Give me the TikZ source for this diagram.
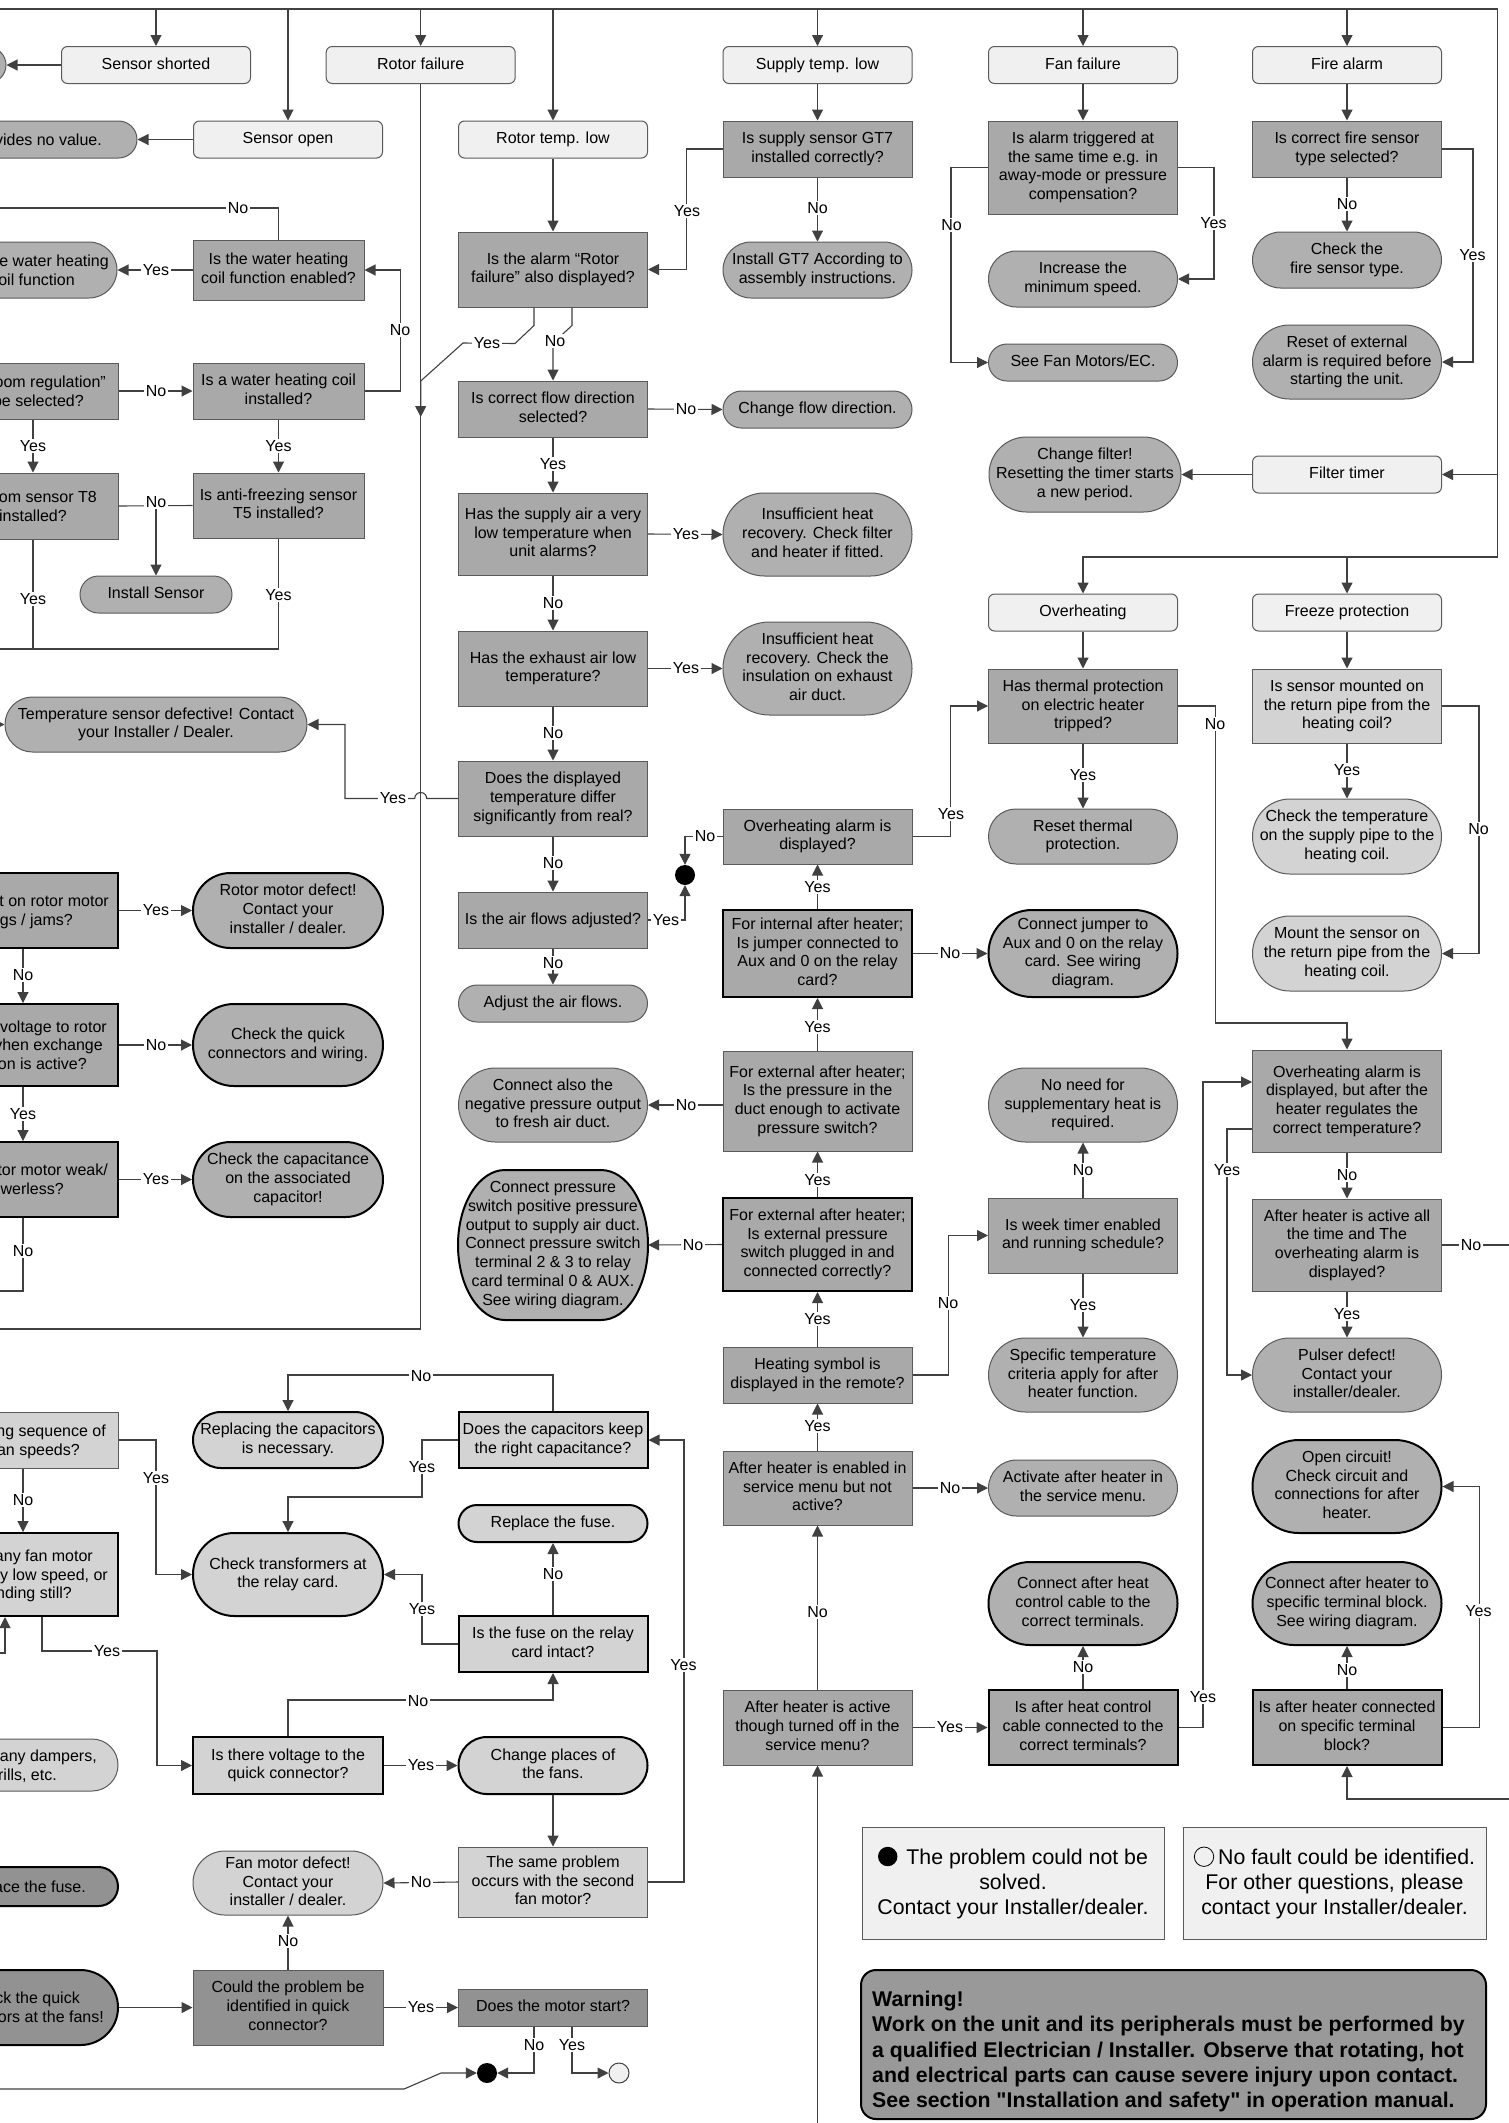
\documentclass[tikz,border=0pt]{standalone}
\usepackage{fontspec}
\setmainfont{Liberation Sans}
\newfontfamily\wfam{Liberation Sans}
\usetikzlibrary{arrows.meta}
\definecolor{gA}{HTML}{A9A9A9}
\definecolor{gT}{HTML}{B0B0B0}
\definecolor{gL}{HTML}{D3D3D3}
\definecolor{gD}{HTML}{929292}
\definecolor{gH}{HTML}{F0F0F0}
\definecolor{gW}{HTML}{999999}
\definecolor{ln}{HTML}{404040}
\definecolor{bd}{HTML}{5A5A5A}
\newcommand\nfont{\fontsize{16}{18.7}\selectfont}
\newcommand\legfont{\fontsize{21.3}{25.3}\selectfont}
\newcommand\wfont{\wfam\fontsize{21.3}{25.25}\selectfont\bfseries}
\newcommand\vstr{\rule[-3.4pt]{0pt}{14.5pt}}
\newcommand\vstrL{\rule[-4.5pt]{0pt}{19.3pt}}
\newcommand\legdotb{\tikz[baseline=-7.6pt]\fill[black] (0,0) circle (9.7pt);}
\newcommand\legdotw{\tikz[baseline=-7.6pt]\draw[black,line width=0.8pt] (0,0) circle (9.7pt);}
\begin{document}
\begin{tikzpicture}[x=1pt,y=-1pt,
  every node/.style={font=\nfont, inner sep=0pt, align=center, text=black},
  bx/.style={draw=bd, line width=1pt, fill=gA, minimum width=189, minimum height=#1},
  tm/.style={draw=bd, line width=1pt, fill=gT, minimum width=189, minimum height=#1, rounded corners=#1/2-0.05},
  hd/.style={draw=bd, line width=1pt, fill=gH, minimum width=189, minimum height=37, rounded corners=6},
  lt/.style={fill=gL}, dk/.style={fill=gD}, hv/.style={draw=black, line width=2pt},
  cn/.style={draw=ln, line width=1.1pt},
  ar/.style={draw=ln, line width=1.1pt, -{Triangle[length=11pt,width=11pt]}},
  lb/.style={fill=white, inner sep=1.5pt},
  fg/.style={anchor=base east}]
\fill[white] (0,0) rectangle (1509,2123);
\useasboundingbox (0,0) rectangle (1509,2123);

% ---------- headers
\node[hd] (ss) at (156,65) {\vstr Sensor shorted\vstr};
\node[hd] (so) at (288,139.5) {\vstr Sensor open\vstr};
\node[hd] (rf) at (420.7,65) {\vstr Rotor failure\vstr};
\node[hd] (rtl) at (553,139.5) {\vstr Rotor temp. low\vstr};
\node[hd] (stl) at (817.5,65) {\vstr Supply temp. low\vstr};
\node[hd] (ff) at (1083,65) {\vstr Fan failure\vstr};
\node[hd] (fa) at (1347,65) {\vstr Fire alarm\vstr};
\node[hd] (ft) at (1347,474.5) {\vstr Filter timer\vstr};
\node[hd] (oh) at (1083,612.5) {\vstr Overheating\vstr};
\node[hd] (fp) at (1347,612.5) {\vstr Freeze protection\vstr};

% ---------- left, cut by the page edge
\node[tm=36, minimum width=206] (L0) at (-97,65) {};
\node[tm=37, minimum width=237] (L1) at (18.5,139.5) {};
\node[fg] at (102,145.2) {vides no value.};
\node[tm=56, minimum width=217] (L2) at (8.5,270) {};
\node[fg] at (109,266.3) {e water heating};
\node[fg] at (75,285) {oil function};
\node[bx=56, minimum width=218] (L3) at (9,391) {};
\node[fg] at (106,387.4) {oom regulation”};
\node[fg] at (84,406) {be selected?};
\node[bx=66, minimum width=218] (L4) at (9,506) {};
\node[fg] at (97,502.3) {om sensor T8};
\node[fg] at (67,521) {installed?};
\node[bx=75, hv, minimum width=218] (L5) at (9,910.5) {};
\node[fg] at (109,906.9) {t on rotor motor};
\node[fg] at (73,925.6) {gs / jams?};
\node[bx=82, hv, minimum width=218] (L6) at (9,1045) {};
\node[fg] at (107,1032) {voltage to rotor};
\node[fg] at (103,1050.7) {vhen exchange};
\node[fg] at (87,1069.4) {on is active?};
\node[bx=75, hv, minimum width=218] (L7) at (9,1179.5) {};
\node[fg] at (108,1175.9) {tor motor weak/};
\node[fg] at (64,1194.6) {owerless?};
\node[bx=56, lt, minimum width=218] (L8) at (9,1440) {};
\node[fg] at (106,1436.4) {ng sequence of};
\node[fg] at (80,1455.1) {an speeds?};
\node[bx=83, hv, lt, minimum width=218] (L9) at (9,1574.5) {};
\node[fg] at (93,1561.5) {any fan motor};
\node[fg] at (108,1580.2) {y low speed, or};
\node[fg] at (72,1598.9) {nding still?};
\node[tm=52, lt, minimum width=218] (L10) at (9,1765) {};
\node[fg] at (97,1761.4) {any dampers,};
\node[fg] at (57,1780.1) {rills, etc.};
\node[tm=39, hv, dk, minimum width=218] (L11) at (9,1886.5) {};
\node[fg] at (86,1892.2) {ace the fuse.};
\node[tm=75, hv, dk, minimum width=218] (L12) at (9,2007.5) {};
\node[fg] at (80,2003.9) {ck the quick};
\node[fg] at (104,2022.6) {ors at the fans!};

% ---------- column A
\node[bx=60, minimum width=171] (wcf) at (278.5,270) {\vstr Is the water heating\\coil function enabled?\vstr};
\node[bx=56, minimum width=171] (whc) at (278.5,391) {\vstr Is a water heating coil\\installed?\vstr};
\node[bx=65, minimum width=171] (afs) at (278.5,505.5) {\vstr Is anti-freezing sensor\\T5 installed?\vstr};
\node[tm=37, minimum width=152] (ins) at (156,594.5) {\vstr Install Sensor\vstr};
\node[tm=55, minimum width=302] (tsd) at (156,724.5) {\vstr Temperature sensor defective! Contact\\your Installer / Dealer.\vstr};
\node[tm=75, hv, minimum width=190] (rmd) at (288,910.5) {\vstr Rotor motor defect!\\Contact your\\installer / dealer.\vstr};
\node[tm=82, hv, minimum width=190] (cqc) at (288,1045) {\vstr Check the quick\\connectors and wiring.\vstr};
\node[tm=75, hv, minimum width=190] (cap) at (288,1179.5) {\vstr Check the capacitance\\on the associated\\capacitor!\vstr};
\node[tm=56, hv, lt, minimum width=190] (rep) at (288,1440) {\vstr Replacing the capacitors\\is necessary.\vstr};
\node[tm=83, hv, lt, minimum width=190] (ctr) at (288,1574.5) {\vstr Check transformers at\\the relay card.\vstr};
\node[bx=57, hv, lt, minimum width=190] (vqc) at (288,1765.5) {\vstr Is there voltage to the\\quick connector?\vstr};
\node[tm=64, lt, minimum width=190] (fmd) at (288,1883) {\vstr Fan motor defect!\\Contact your\\installer / dealer.\vstr};
\node[bx=75, dk, minimum width=190] (cpi) at (288,2007.5) {\vstr Could the problem be\\identified in quick\\connector?\vstr};

% ---------- column B
\node[bx=75] (rab) at (553,269.5) {\vstr Is the alarm “Rotor\\failure” also displayed?\vstr};
\node[bx=56] (cfd) at (553,409) {\vstr Is correct flow direction\\selected?\vstr};
\node[bx=82] (sal) at (553,534) {\vstr Has the supply air a very\\low temperature when\\unit alarms?\vstr};
\node[bx=75] (eal) at (553,668.5) {\vstr Has the exhaust air low\\temperature?\vstr};
\node[bx=75] (dtd) at (553,798.5) {\vstr Does the displayed\\temperature differ\\significantly from real?\vstr};
\node[bx=56] (afa) at (553,920) {\vstr Is the air flows adjusted?\vstr};
\node[tm=37] (adj) at (553,1003.5) {\vstr Adjust the air flows.\vstr};
\node[tm=74] (cneg) at (553,1105) {\vstr Connect also the\\negative pressure output\\to fresh air duct.\vstr};
\path[draw=black, line width=2pt, fill=gT] (505,1170) -- (601,1170)
  arc[start angle=90, end angle=-90, x radius=47pt, y radius=75pt] -- (505,1320)
  arc[start angle=270, end angle=90, x radius=47pt, y radius=75pt] -- cycle;
\node[minimum width=190, minimum height=150] (cpos) at (553,1245) {\vstr Connect pressure\\switch positive pressure\\output to supply air duct.\\Connect pressure switch\\terminal 2 \& 3 to relay\\card terminal 0 \& AUX.\\See wiring diagram.\vstr};
\node[bx=56, hv, lt] (dck) at (553,1440) {\vstr Does the capacitors keep\\the right capacitance?\vstr};
\node[tm=37, hv, lt] (rfu) at (553,1523.5) {\vstr Replace the fuse.\vstr};
\node[bx=56, hv, lt] (fri) at (553,1644) {\vstr Is the fuse on the relay\\card intact?\vstr};
\node[tm=57, hv, lt] (cpf) at (553,1765.5) {\vstr Change places of\\the fans.\vstr};
\node[bx=70, lt] (spr) at (553,1882) {\vstr The same problem\\occurs with the second\\fan motor?\vstr};
\node[bx=37, dk] (dms) at (553,2007.5) {\vstr Does the motor start?\vstr};
\node[circle, fill=black, minimum size=20] (dot1) at (487,2073) {};
\node[circle, draw=ln, line width=1pt, fill=gH, minimum size=20] (ocir) at (619,2073) {};
\node[circle, fill=black, minimum size=20] (dot2) at (685,875) {};

% ---------- column C
\node[bx=56] (gt7) at (817.5,149) {\vstr Is supply sensor GT7\\installed correctly?\vstr};
\node[tm=56] (igt) at (817.5,270) {\vstr Install GT7 According to\\assembly instructions.\vstr};
\node[tm=37] (cfl) at (817.5,409.5) {\vstr Change flow direction.\vstr};
\node[tm=83] (ihr1) at (817.5,534.5) {\vstr Insufficient heat\\recovery. Check filter\\and heater if fitted.\vstr};
\node[tm=93] (ihr2) at (817.5,668.5) {\vstr Insufficient heat\\recovery. Check the\\insulation on exhaust\\air duct.\vstr};
\node[bx=55] (oad) at (817.5,836.5) {\vstr Overheating alarm is\\displayed?\vstr};
\node[bx=87, hv] (fih) at (817.5,953.5) {\vstr For internal after heater;\\Is jumper connected to\\Aux and 0 on the relay\\card?\vstr};
\node[bx=100] (fep) at (817.5,1101) {\vstr For external after heater;\\Is the pressure in the\\duct enough to activate\\pressure switch?\vstr};
\node[bx=93, hv] (fes) at (817.5,1244.5) {\vstr For external after heater;\\Is external pressure\\switch plugged in and\\connected correctly?\vstr};
\node[bx=56] (hsd) at (817.5,1375) {\vstr Heating symbol is\\displayed in the remote?\vstr};
\node[bx=74] (aen) at (817.5,1488) {\vstr After heater is enabled in\\service menu but not\\active?\vstr};
\node[bx=75] (aac) at (817.5,1727.5) {\vstr After heater is active\\though turned off in the\\service menu?\vstr};

% ---------- column D
\node[bx=93] (atr) at (1083,167.5) {\vstr Is alarm triggered at\\the same time e.g. in\\away-mode or pressure\\compensation?\vstr};
\node[tm=56] (inc) at (1083,279) {\vstr Increase the\\minimum speed.\vstr};
\node[tm=37] (sfm) at (1083,362.5) {\vstr See Fan Motors/EC.\vstr};
\node[tm=75, minimum width=192] (cfi) at (1085,474.5) {\vstr Change filter!\\Resetting the timer starts\\a new period.\vstr};
\node[bx=74] (htp) at (1083,706) {\vstr Has thermal protection\\on electric heater\\tripped?\vstr};
\node[tm=55] (rtp) at (1083,836.5) {\vstr Reset thermal\\protection.\vstr};
\node[tm=87, hv] (cjm) at (1083,953.5) {\vstr Connect jumper to\\Aux and 0 on the relay\\card. See wiring\\diagram.\vstr};
\node[tm=74] (nns) at (1083,1105) {\vstr No need for\\supplementary heat is\\required.\vstr};
\node[bx=75] (wte) at (1083,1235.5) {\vstr Is week timer enabled\\and running schedule?\vstr};
\node[tm=74] (stc) at (1083,1375) {\vstr Specific temperature\\criteria apply for after\\heater function.\vstr};
\node[tm=56] (aah) at (1083,1488) {\vstr Activate after heater in\\the service menu.\vstr};
\node[tm=83, hv] (cac) at (1083,1603.5) {\vstr Connect after heat\\control cable to the\\correct terminals.\vstr};
\node[bx=75, hv] (ahc) at (1083,1727.5) {\vstr Is after heat control\\cable connected to the\\correct terminals?\vstr};

% ---------- column E
\node[bx=56] (cfs) at (1347,149) {\vstr Is correct fire sensor\\type selected?\vstr};
\node[tm=56] (cst) at (1347,260) {\vstr Check the\\fire sensor type.\vstr};
\node[tm=74] (rex) at (1347,362) {\vstr Reset of external\\alarm is required before\\starting the unit.\vstr};
\node[bx=74, lt] (smr) at (1347,706) {\vstr Is sensor mounted on\\the return pipe from the\\heating coil?\vstr};
\node[tm=75, lt] (ctp) at (1347,836.5) {\vstr Check the temperature\\on the supply pipe to the\\heating coil.\vstr};
\node[tm=75, lt] (msr) at (1347,953.5) {\vstr Mount the sensor on\\the return pipe from the\\heating coil.\vstr};
\node[bx=102] (oab) at (1347,1101) {\vstr Overheating alarm is\\displayed, but after the\\heater regulates the\\correct temperature?\vstr};
\node[bx=92] (aha) at (1347,1245) {\vstr After heater is active all\\the time and The\\overheating alarm is\\displayed?\vstr};
\node[tm=74] (pdf) at (1347,1375) {\vstr Pulser defect!\\Contact your\\installer/dealer.\vstr};
\node[tm=93, hv] (ocr) at (1347,1486.5) {\vstr Open circuit!\\Check circuit and\\connections for after\\heater.\vstr};
\node[tm=83, hv] (cah) at (1347,1603.5) {\vstr Connect after heater to\\specific terminal block.\\See wiring diagram.\vstr};
\node[bx=75, hv] (ahb) at (1347,1727.5) {\vstr Is after heater connected\\on specific terminal\\block?\vstr};

% ---------- legend and warning
\node[draw=bd, line width=1pt, fill=gH, minimum width=302, minimum height=112, font=\legfont] (lg1) at (1013,1883) {\vstrL\legdotb\hspace{9pt}The problem could not be\\solved.\\Contact your Installer/dealer.\vstrL};
\node[draw=bd, line width=1pt, fill=gH, minimum width=303, minimum height=112, font=\legfont] (lg2) at (1334.5,1883) {\vstrL\legdotw\hspace{4pt}No fault could be identified.\\For other questions, please\\contact your Installer/dealer.\vstrL};
\node[draw=black, line width=2pt, fill=gW, rounded corners=15, minimum width=625, minimum height=149] (wrn) at (1173.5,2044.5) {};
\node[anchor=north west, align=left, font=\wfont] (wtx) at (872,1991) {Warning!\\Work on the unit and its peripherals must be performed by\\a qualified Electrician / Installer. Observe that rotating, hot\\and electrical parts can cause severe injury upon contact.\\See section "Installation and safety" in operation manual.};

% ---------- helper coordinates
\coordinate (tl) at (0,9);
\coordinate (tr) at (1497.7,9);
\coordinate (rb) at (1497.7,557);
\coordinate (e208) at (0,208);
\coordinate (k23) at (23,0);
\coordinate (k33) at (33,0);
\coordinate (k42) at (42,0);
\coordinate (k156) at (156,0);
\coordinate (k422) at (422,0);
\coordinate (y649) at (0,649);
\coordinate (y1291) at (0,1291);
\coordinate (y1329) at (0,1329);
\coordinate (y1023) at (0,1023);
\coordinate (tin) at (-30,724.5);
\coordinate (c1651) at (157,1651);
\coordinate (k5) at (5,1653);
\coordinate (lin2) at (-30,1653);
\coordinate (lin3) at (-30,2089);
\coordinate (c1497) at (422,1497);
\coordinate (c1082) at (1203,1082);
\coordinate (c1129) at (1227,1129);
\coordinate (rOut) at (1530,1245);
\coordinate (rIn) at (1530,1799);
\coordinate (bot) at (817.5,2150);

% ---------- connectors: top bus
\draw[cn] (tl) -- (tr) -- (rb);
\draw[ar] (rb) -| (oh.north);
\draw[ar] (fp.north |- rb) -- (fp.north);
\draw[ar] (ss.north |- tl) -- (ss.north);
\draw[ar] (so.north |- tl) -- (so.north);
\draw[ar] (rf.north |- tl) -- (rf.north);
\draw[ar] (rtl.north |- tl) -- (rtl.north);
\draw[ar] (stl.north |- tl) -- (stl.north);
\draw[ar] (ff.north |- tl) -- (ff.north);
\draw[ar] (fa.north |- tl) -- (fa.north);
\draw[ar] (ft.east -| tr) -- (ft.east);
\draw[ar] (ft.west) -- (cfi.east);

% left top
\draw[ar] (ss.west) -- (L0.east);
\draw[ar] (so.west) -- (L1.east);
\draw[cn] (wcf.north) |- (e208);
\draw[ar] (wcf.west) -- (L2.east);
\draw[ar] (whc.east) -- ++(36,0) |- (wcf.east);
\draw[ar] (L3.east) -- (whc.west);
\draw[ar] (L3.south -| k33) -- (L4.north -| k33);
\draw[ar] (whc.south) -- (afs.north);
\draw[cn] (L4.east) -- (afs.west);
\draw[ar] (L4.east -| k156) -- (ins.north);
\draw[cn] (L4.south -| k33) -- (k33 |- y649);
\draw[cn] (afs.south) |- (y649);
\draw[ar] (dtd.west) -- (426.7,798.5) arc[start angle=0,end angle=180,radius=6pt] -- (345,798.5) |- (tsd.east);
\draw[ar] (tin) -- (tsd.west);
\draw[cn] (rf.south) |- (y1329);
\draw[ar] ([xshift=-19pt]rab.south) -- ++(0,18) -- ++(-19,18) -- (463,343) -- (420.7,381) -- (420.7,417);
\draw[ar] ([xshift=19pt]rab.south) -- ++(0,18) -- (553,343) -- (cfd.north);

% column B / C
\draw[ar] (rtl.south) -- (rab.north);
\draw[ar] (gt7.west) -- ++(-36,0) |- (rab.east);
\draw[ar] (cfd.east) -- (cfl.west);
\draw[ar] (cfd.south) -- (sal.north);
\draw[ar] (sal.east) -- (ihr1.west);
\draw[ar] (sal.south) -- (eal.north);
\draw[ar] (eal.east) -- (ihr2.west);
\draw[ar] (eal.south) -- (dtd.north);
\draw[ar] (dtd.south) -- (afa.north);
\draw[ar] (afa.south) -- (adj.north);
\draw[ar] (afa.east) -| (dot2.south);
\draw[ar] (oad.west) -| (dot2.north);
\draw[ar] (oad.east) -- ++(38,0) |- (htp.west);
\draw[ar] (fih.north) -- (oad.south);
\draw[ar] (fih.east) -- (cjm.west);
\draw[ar] (fep.north) -- (fih.south);
\draw[ar] (fep.west |- cneg.east) -- (cneg.east);
\draw[ar] (fes.north) -- (fep.south);
\draw[ar] (fes.west) -- (cpos.east);
\draw[ar] (hsd.north) -- (fes.south);
\draw[ar] (hsd.east) -- ++(36,0) |- (wte.west);
\draw[ar] (aen.north) -- (hsd.south);
\draw[ar] (aen.east) -- (aah.west);
\draw[ar] (aac.north) -- (aen.south);
\draw[ar] (bot) -- (aac.south);
\draw[ar] (aac.east) -- (ahc.west);
\draw[ar] (stl.south) -- (gt7.north);
\draw[ar] (gt7.south) -- (igt.north);

% column D / E
\draw[ar] (ff.south) -- (atr.north);
\draw[ar] (atr.east) -- ++(36,0) |- (inc.east);
\draw[ar] (atr.west) -- ++(-37,0) |- (sfm.west);
\draw[ar] (oh.south) -- (htp.north);
\draw[ar] (htp.south) -- (rtp.north);
\draw[ar] (htp.east) -- ++(37.5,0) |- (oab.north |- y1023) -- (oab.north);
\draw[ar] (wte.north) -- (nns.south);
\draw[ar] (wte.south) -- (stc.north);
\draw[ar] (ahc.north) -- (cac.south);
\draw[ar] (ahc.east) -| (c1082) -- (c1082 -| oab.west);
\draw[ar] (c1129 -| oab.west) -- (c1129) |- (pdf.west);
\draw[ar] (oab.south) -- (aha.north);
\draw[ar] (aha.south) -- (pdf.north);
\draw[cn] (aha.east) -- (rOut);
\draw[ar] (rIn) -| (ahb.south);
\draw[ar] (ahb.north) -- (cah.south);
\draw[ar] (ahb.east) -- ++(37,0) |- (ocr.east);
\draw[ar] (fa.south) -- (cfs.north);
\draw[ar] (cfs.south) -- (cst.north);
\draw[ar] (cfs.east) -- ++(31,0) |- (rex.east);
\draw[ar] (fp.south) -- (smr.north);
\draw[ar] (smr.south) -- (ctp.north);
\draw[ar] (smr.east) -- ++(37,0) |- (msr.east);

% left lower
\draw[ar] (L5.east) -- (rmd.west);
\draw[ar] (L5.south -| k23) -- (L6.north -| k23);
\draw[ar] (L6.east) -- (cqc.west);
\draw[ar] (L6.south -| k23) -- (L7.north -| k23);
\draw[ar] (L7.east) -- (cap.west);
\draw[cn] (L7.south -| k23) |- (y1291);
\draw[ar] (L8.east) -- (L8.east -| k156) |- (ctr.west);
\draw[ar] (L8.south -| k23) -- (L9.north -| k23);
\draw[ar] (L9.south -| k42) |- (c1651) |- (vqc.west);
\draw[ar] (lin2) -| (L9.south -| k5);
\draw[ar] (L12.east) -- (cpi.west);
\draw[ar] (cpi.north) -- (fmd.south);
\draw[ar] (cpi.east) -- (dms.west);
\draw[ar] ([xshift=-19pt]dms.south) |- (dot1.east);
\draw[ar] ([xshift=19pt]dms.south) |- (ocir.west);
\draw[ar] (lin3) -- (404,2089) -- (441,2073) -- (dot1.west);
\draw[ar] (dck.north) -- ++(0,-36) -| (rep.north);
\draw[ar] (dck.west) -| (c1497) -| (ctr.north);
\draw[ar] (spr.east) -- ++(36,0) |- (dck.east);
\draw[ar] (fri.north) -- (rfu.south);
\draw[ar] (fri.west) -| (k422 |- ctr.east) -- (ctr.east);
\draw[ar] (vqc.north) -- ++(0,-36) -| (fri.south);
\draw[ar] (vqc.east) -- (cpf.west);
\draw[ar] (cpf.south) -- (spr.north);
\draw[ar] (spr.west) -- (fmd.east);

% ---------- labels
\foreach \x/\y/\t in {238/208/No, 156/270/Yes, 400/330/No, 156/391/No, 33/446/Yes, 278.5/446/Yes,
  156/502/No, 33/599/Yes, 278.5/595/Yes, 393/798.5/Yes, 487/343/Yes, 555/341/No, 687/211/Yes,
  817.5/208/No, 686/409/No, 553/464/Yes, 686/534/Yes, 553/603/No, 686/668.5/Yes, 553/733/No,
  553/863/No, 666/920/Yes, 553/963/No, 705/836.5/No, 951/814/Yes, 817.5/887/Yes, 950/953.5/No,
  817.5/1027/Yes, 686/1105/No, 817.5/1180/Yes, 693/1245/No, 817.5/1319/Yes, 948/1303/No,
  817.5/1426/Yes, 950/1488/No, 817.5/1612/No, 950/1727.5/Yes, 1213.5/223/Yes, 951.5/225/No,
  1083/775/Yes, 1215/724/No, 1083/1170/No, 1083/1305/Yes, 1083/1667/No, 1203/1697/Yes,
  1227/1170/Yes, 1347/1175/No, 1347/1314/Yes, 1471/1245/No, 1347/1670/No, 1478.5/1611/Yes,
  1347/204/No, 1472.5/255/Yes, 1347/770/Yes, 1478.5/829/No, 156/910.5/Yes, 23/975/No,
  156/1045/No, 23/1114/Yes, 156/1179.5/Yes, 23/1251/No, 156/1478/Yes, 23/1500/No,
  107/1651/Yes, 288/1941/No, 421/2007.5/Yes, 534/2045/No, 572/2045/Yes, 421/1376/No,
  422/1467/Yes, 683.5/1665/Yes, 553/1574/No, 422/1609/Yes, 418/1701/No, 421/1765.5/Yes,
  421/1882/No}
  \node[lb] at (\x,\y) {\t};
\end{tikzpicture}
\end{document}
